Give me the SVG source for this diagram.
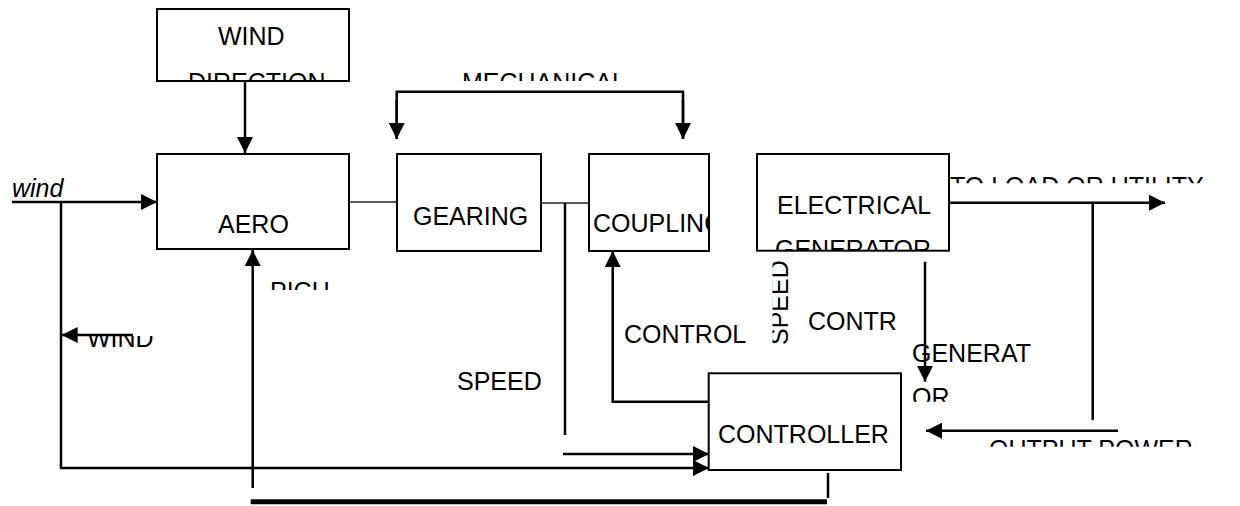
<svg xmlns="http://www.w3.org/2000/svg" width="1240" height="506" viewBox="0 0 1240 506">
<style>
.box{fill:#fff;stroke:#000;stroke-width:2}
.ln{fill:none;stroke:#000;stroke-width:2.5}
.thin{fill:none;stroke:#222;stroke-width:1.5}
.t{font-family:"Liberation Sans",Arial,sans-serif;font-size:25px;fill:#000}
</style>
<defs>
<marker id="ah" viewBox="0 0 16 16" refX="16" refY="8" markerWidth="16" markerHeight="16" markerUnits="userSpaceOnUse" orient="auto">
<path d="M0,0 L16,8 L0,16 Z" fill="#000"/>
</marker>
<clipPath id="cDir"><rect x="157" y="60" width="192" height="21"/></clipPath>
<clipPath id="cMech"><rect x="440" y="60" width="220" height="21"/></clipPath>
<clipPath id="cLoad"><rect x="949" y="165" width="291" height="18.3"/></clipPath>
<clipPath id="cGen"><rect x="757" y="230" width="192" height="20"/></clipPath>
<clipPath id="cPich"><rect x="260" y="270" width="90" height="20"/></clipPath>
<clipPath id="cWind"><rect x="80" y="336" width="90" height="20"/></clipPath>
<clipPath id="cOr"><rect x="905" y="380" width="50" height="21.7"/></clipPath>
<clipPath id="cOut"><rect x="980" y="430" width="240" height="16.7"/></clipPath>
<clipPath id="cCoup"><rect x="589" y="154" width="120" height="97"/></clipPath>
<clipPath id="cSpd"><rect x="772.5" y="255" width="30" height="100"/></clipPath>
</defs>

<g id="connectors">
<line class="ln" x1="245" y1="81" x2="245" y2="153" marker-end="url(#ah)"/>
<line class="ln" x1="12" y1="202" x2="157" y2="202" marker-end="url(#ah)"/>
<polyline class="ln" points="61,202 61,468 709,468" marker-end="url(#ah)"/>
<line class="thin" x1="349" y1="202" x2="397" y2="202"/>
<line class="thin" x1="541" y1="203" x2="589" y2="203"/>
<polyline class="ln" points="396.7,139 396.7,91.7 683,91.7 683,139"/>
<line class="ln" x1="396.7" y1="100" x2="396.7" y2="139" marker-end="url(#ah)"/>
<line class="ln" x1="683" y1="100" x2="683" y2="139" marker-end="url(#ah)"/>
<line class="ln" x1="565" y1="203" x2="565" y2="435"/>
<polyline class="ln" points="712.7,401.7 612.7,401.7 612.7,251" marker-end="url(#ah)"/>
<line class="ln" x1="563" y1="454" x2="709" y2="454" marker-end="url(#ah)"/>
<line class="ln" x1="252.7" y1="488" x2="252.7" y2="250" marker-end="url(#ah)"/>
<line x1="250.7" y1="501.7" x2="827" y2="501.7" stroke="#000" stroke-width="5"/>
<line class="ln" x1="828" y1="473" x2="828" y2="498"/>
<line class="ln" x1="133" y1="335" x2="61.7" y2="335" marker-end="url(#ah)"/>
<line class="ln" x1="949" y1="202.7" x2="1165" y2="202.7" marker-end="url(#ah)"/>
<line class="ln" x1="1092.7" y1="202.7" x2="1092.7" y2="420"/>
<line class="ln" x1="925" y1="261.7" x2="925" y2="381.7" marker-end="url(#ah)"/>
<line class="ln" x1="1118" y1="430.7" x2="926" y2="430.7" marker-end="url(#ah)"/>
</g>

<g id="wind-direction">
<rect class="box" x="157" y="9" width="192" height="72"/>
<text class="t" x="218" y="45">WIND</text>
<text class="t" x="188" y="91" clip-path="url(#cDir)">DIRECTION</text>
</g>
<g id="aero">
<rect class="box" x="157" y="154" width="192" height="95"/>
<text class="t" x="218" y="233">AERO</text>
</g>
<g id="gearing">
<rect class="box" x="397" y="154" width="144" height="97"/>
<text class="t" x="413" y="225">GEARING</text>
</g>
<g id="coupling">
<rect class="box" x="589" y="154" width="120" height="97"/>
<text class="t" x="593" y="232" clip-path="url(#cCoup)">COUPLING</text>
</g>
<g id="generator">
<rect class="box" x="757" y="154" width="192" height="96.7"/>
<text class="t" x="777" y="214">ELECTRICAL</text>
<text class="t" x="775" y="258" clip-path="url(#cGen)">GENERATOR</text>
</g>
<g id="controller">
<rect class="box" x="708.7" y="373.3" width="192.3" height="96.7"/>
<text class="t" x="718" y="443">CONTROLLER</text>
</g>

<g id="labels">
<text class="t" x="12" y="197" font-style="italic" font-size="24">wind</text>
<text class="t" x="462" y="91" clip-path="url(#cMech)">MECHANICAL</text>
<text class="t" x="950" y="194.6" clip-path="url(#cLoad)">TO LOAD OR UTILITY</text>
<text class="t" x="270" y="300" clip-path="url(#cPich)">PICH</text>
<text class="t" x="87" y="347" clip-path="url(#cWind)">WIND</text>
<text class="t" x="624" y="343">CONTROL</text>
<text class="t" x="457" y="390">SPEED</text>
<text class="t" x="808" y="330">CONTR</text>
<text class="t" x="912" y="362">GENERAT</text>
<text class="t" x="912" y="406" clip-path="url(#cOr)">OR</text>
<text class="t" x="989" y="458" clip-path="url(#cOut)">OUTPUT POWER</text>
<g clip-path="url(#cSpd)"><text class="t" transform="translate(788,345) rotate(-90)" x="0" y="0">SPEED</text></g>
</g>
</svg>
